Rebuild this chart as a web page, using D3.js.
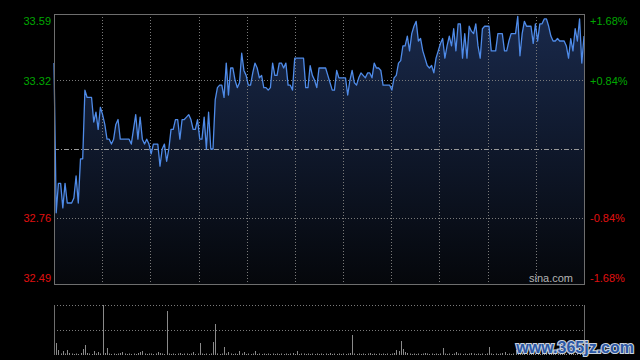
<!DOCTYPE html>
<html><head><meta charset="utf-8">
<script src="https://cdn.jsdelivr.net/npm/d3@7/dist/d3.min.js"></script>
<style>html,body{margin:0;padding:0;background:#000;}svg{display:block;}</style>
</head><body>
<svg id="c" width="640" height="360"></svg>
<script>
const priceTicks = [32.49, 32.76, 33.32, 33.59];
const pctTicks = ["-1.68%", "-0.84%", "+0.84%", "+1.68%"];
const prevClose = 33.04;
const prices = [
33.39,32.78,32.90,32.90,32.80,32.90,32.82,32.82,32.82,32.84,
32.93,32.82,33.00,33.00,33.28,33.25,33.25,33.25,33.15,33.19,
33.12,33.21,33.18,33.14,33.08,33.08,33.06,33.08,33.14,33.16,
33.08,33.08,33.08,33.08,33.08,33.06,33.12,33.18,33.08,33.17,
33.08,33.06,33.08,33.06,33.02,33.06,33.06,33.06,32.97,33.04,
33.06,32.99,33.04,33.12,33.12,33.16,33.16,33.08,33.16,33.16,
33.17,33.18,33.16,33.12,33.12,33.16,33.08,33.08,33.17,33.04,
33.19,33.04,33.04,33.24,33.29,33.30,33.30,33.25,33.39,33.26,
33.37,33.37,33.32,33.29,33.31,33.43,33.36,33.34,33.30,33.30,
33.35,33.39,33.37,33.33,33.34,33.29,33.29,33.28,33.29,33.39,
33.34,33.34,33.39,33.39,33.37,33.39,33.30,33.30,33.28,33.41,
33.41,33.41,33.41,33.41,33.29,33.29,33.38,33.34,33.32,33.29,
33.37,33.37,33.37,33.37,33.34,33.31,33.28,33.28,33.36,33.33,
33.33,33.33,33.33,33.26,33.32,33.36,33.31,33.30,33.33,33.35,
33.34,33.33,33.35,33.35,33.33,33.39,33.37,33.37,33.36,33.30,
33.30,33.30,33.30,33.28,33.33,33.34,33.39,33.40,33.46,33.46,
33.50,33.44,33.51,33.54,33.56,33.48,33.49,33.44,33.41,33.38,
33.37,33.38,33.35,33.41,33.44,33.47,33.49,33.41,33.46,33.50,
33.46,33.53,33.44,33.55,33.55,33.41,33.51,33.41,33.54,33.52,
33.51,33.55,33.46,33.41,33.53,33.54,33.54,33.54,33.44,33.44,
33.44,33.51,33.51,33.51,33.44,33.44,33.48,33.51,33.51,33.51,
33.58,33.42,33.51,33.56,33.54,33.54,33.54,33.47,33.55,33.48,
33.55,33.55,33.57,33.57,33.54,33.50,33.48,33.48,33.49,33.48,
33.48,33.48,33.46,33.41,33.49,33.44,33.53,33.48,33.57,33.39,
33.50
];
const volumes = [
6,24,10,3,8,3,10,4,3,2,3,2,4,12,20,4,3,2,8,3,
6,3,100,4,14,3,2,3,2,3,4,6,3,2,3,2,3,2,4,6,
8,3,2,3,3,2,3,6,4,3,2,88,3,2,3,2,3,4,2,3,
3,2,3,6,2,3,24,3,2,3,2,3,26,62,3,2,3,16,3,6,
3,2,3,2,8,3,6,2,3,2,3,8,2,3,2,3,2,3,2,3,
2,3,2,3,2,3,2,3,4,2,8,2,3,3,2,3,2,3,2,3,
2,3,2,3,2,4,2,3,2,3,2,3,2,3,4,40,3,2,3,2,
3,2,3,4,2,3,2,3,2,3,2,3,2,3,4,10,8,28,12,6,
4,3,2,3,2,3,2,3,4,3,2,3,2,3,2,3,14,3,2,3,
2,3,6,3,3,2,3,2,3,4,3,2,3,2,3,2,3,16,3,2,
3,2,3,4,6,2,3,2,3,10,4,3,4,3,2,3,4,3,2,3,
2,3,4,3,2,3,4,2,3,2,4,3,2,3,4,3,2,4,3,6,54
];

const svg = d3.select("#c");
const L = 54, R = 584, T = 14, B = 284, VT = 305, VB = 355;
const x = d3.scaleLinear().domain([0, 240]).range([L, R]);
const y = d3.scaleLinear().domain([32.49, 33.59]).range([B, T]);
const yv = d3.scaleLinear().domain([0, 100]).range([VB, VT]);
const pct = d3.scaleOrdinal().domain(priceTicks).range(pctTicks);

const defs = svg.append("defs");
const g = defs.append("linearGradient").attr("id", "ag")
  .attr("gradientUnits", "userSpaceOnUse").attr("x1", 0).attr("x2", 0).attr("y1", T).attr("y2", B);
g.append("stop").attr("offset", 0).attr("stop-color", "#19294b");
g.append("stop").attr("offset", 1).attr("stop-color", "#05070b");

const area = d3.area().x((d, i) => x(i)).y0(B).y1(d => y(d));
const line = d3.line().x((d, i) => x(i)).y(d => y(d));
svg.append("path").datum(prices).attr("d", area).attr("fill", "url(#ag)");

const grid = svg.append("g").attr("fill", "none");
for (let k = 1; k <= 10; k++) {
  const gx = Math.round(L + k * (R - L) / 11) + 0.5;
  grid.append("line").attr("x1", gx).attr("x2", gx).attr("y1", T).attr("y2", B)
    .attr("stroke", "#7a7a7a").attr("stroke-dasharray", "1,2");
}
[33.32, 32.76].forEach(v => {
  const gy = Math.round(y(v)) + 0.5;
  grid.append("line").attr("x1", L).attr("x2", R).attr("y1", gy).attr("y2", gy)
    .attr("stroke", "#7a7a7a").attr("stroke-dasharray", "1,2");
});
const my = Math.round(y(prevClose)) + 0.5;
grid.append("line").attr("x1", L).attr("x2", R).attr("y1", my).attr("y2", my)
  .attr("stroke", "#9a9a9a").attr("stroke-dasharray", "5,2,1,2");

svg.append("path").datum(prices).attr("d", line).attr("fill", "none")
  .attr("stroke", "#4f8be8").attr("stroke-width", 1.3).attr("stroke-linejoin", "round");

svg.append("rect").attr("x", L + 0.5).attr("y", T + 0.5).attr("width", R - L).attr("height", B - T)
  .attr("fill", "none").attr("stroke", "#6e6e6e");

const colorOf = v => v > prevClose ? "#00a800" : "#e01010";
const left = svg.append("g").attr("transform", `translate(${L},0)`)
  .call(d3.axisLeft(y).tickValues(priceTicks).tickSize(0).tickPadding(3).tickFormat(d3.format(".2f")));
const right = svg.append("g").attr("transform", `translate(${R},0)`)
  .call(d3.axisRight(y).tickValues(priceTicks).tickSize(0).tickPadding(6).tickFormat(d => pct(d)));
[left, right].forEach(ax => {
  ax.select(".domain").remove();
  ax.selectAll("text").attr("font-family", "'Liberation Sans', Arial, sans-serif").attr("font-size", 11)
    .attr("fill", d => colorOf(d))
    .attr("dy", d => d === 33.59 ? "0.95em" : d === 32.49 ? "-0.25em" : "0.35em");
});

svg.append("text").attr("x", R - 11).attr("y", B - 2).attr("text-anchor", "end")
  .attr("font-family", "'Liberation Sans', Arial, sans-serif").attr("font-size", 11)
  .attr("fill", "#b4b4b4").text("sina.com");

const vg = svg.append("g");
[VT, (VT + VB) / 2].forEach(v => {
  const gy = Math.round(v) + 0.5;
  vg.append("line").attr("x1", L).attr("x2", R).attr("y1", gy).attr("y2", gy)
    .attr("stroke", "#7a7a7a").attr("stroke-dasharray", "1,2");
});
vg.selectAll("line.bar").data(volumes).join("line").attr("class", "bar")
  .attr("x1", (d, i) => Math.round(x(i)) + 0.5).attr("x2", (d, i) => Math.round(x(i)) + 0.5)
  .attr("y1", VB).attr("y2", d => yv(d)).attr("stroke", "#8a8a8a").attr("stroke-width", 1);
[L, R].forEach(v => {
  vg.append("line").attr("x1", v + 0.5).attr("x2", v + 0.5).attr("y1", VT).attr("y2", VB)
    .attr("stroke", "#6e6e6e");
});

svg.append("text").attr("x", 634).attr("y", 353).attr("text-anchor", "end")
  .attr("font-family", "'Liberation Sans', Arial, sans-serif").attr("font-weight", "bold").attr("font-size", 16)
  .attr("fill", "#2b58a6").attr("stroke", "#c8d0dc").attr("stroke-width", 2.2)
  .attr("paint-order", "stroke").text("www.365jz.com");
</script>
</body></html>
